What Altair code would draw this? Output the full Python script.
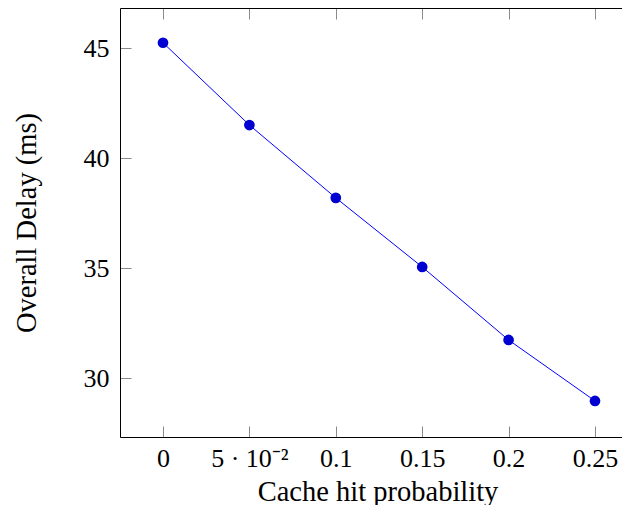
import altair as alt
import pandas as pd

probs = [0, 0.05, 0.1, 0.15, 0.2, 0.25]
delays = [45.25, 41.51, 38.2, 35.06, 31.74, 28.97]
x_ticks = [0, 0.05, 0.1, 0.15, 0.2, 0.25]
x_tick_labels = ["0", "5 · 10⁻²", "0.1", "0.15", "0.2", "0.25"]
y_ticks = [30, 35, 40, 45]

df = pd.DataFrame({"p": probs, "d": delays})

label_expr = "[" + ",".join("'" + s + "'" for s in x_tick_labels) + "][indexof([" + \
    ",".join(str(v) for v in x_ticks) + "], datum.value)]"

FONT = "Liberation Serif"
TICK = "#8a8a8a"

xscale = alt.Scale(domain=[-0.02488, 0.26563], nice=False, zero=False)
yscale = alt.Scale(domain=[27.33, 46.83], nice=False, zero=False)

common = dict(grid=False, domain=False, tickColor=TICK, tickWidth=1,
              labelFont=FONT, labelFontSize=26, labelColor="black",
              titleFont=FONT, titleFontSize=28.5, titleFontWeight="normal",
              titleColor="black")
frame = dict(grid=False, domain=True, domainColor="black", domainWidth=1,
             ticks=False, labels=False, title=None, offset=0)

line = alt.Chart(df).mark_line(color="#0000ff", strokeWidth=1).encode(
    x=alt.X("p:Q", scale=xscale,
            axis=alt.Axis(values=x_ticks, labelExpr=label_expr,
                          title="Cache hit probability", orient="bottom",
                          offset=-11, tickSize=11, labelPadding=8,
                          titlePadding=6, titleX=257.5, labelFlush=False,
                          **common)),
    y=alt.Y("d:Q", scale=yscale,
            axis=alt.Axis(values=y_ticks, title="Overall Delay (ms)",
                          orient="left", offset=-11, tickSize=11,
                          labelPadding=11, titlePadding=42, **common)),
)

points = alt.Chart(df).mark_point(filled=True, size=115, color="#0000d0",
                                  opacity=1).encode(
    x=alt.X("p:Q", scale=xscale,
            axis=alt.Axis(values=x_ticks, labels=False, title=None,
                          orient="top", offset=-11, tickSize=11, **common)),
    y=alt.Y("d:Q", scale=yscale,
            axis=alt.Axis(orient="left", **frame)),
)

frame_bottom = alt.Chart(df).mark_point(opacity=0).encode(
    x=alt.X("p:Q", scale=xscale, axis=alt.Axis(orient="bottom", **frame)),
    y=alt.Y("d:Q", scale=yscale, axis=None),
)

frame_top = alt.Chart(df).mark_point(opacity=0).encode(
    x=alt.X("p:Q", scale=xscale, axis=alt.Axis(orient="top", **frame)),
    y=alt.Y("d:Q", scale=yscale, axis=None),
)

chart = alt.layer(line, points, frame_bottom, frame_top).resolve_axis(
    x="independent", y="independent"
).properties(
    width=502, height=429,
    autosize=alt.AutoSizeParams(type="none"),
    padding={"left": 112, "top": 0, "right": 0, "bottom": 68},
).configure_view(stroke=None)

chart.save("out.html", embed_options={"renderer": "svg", "actions": False})
